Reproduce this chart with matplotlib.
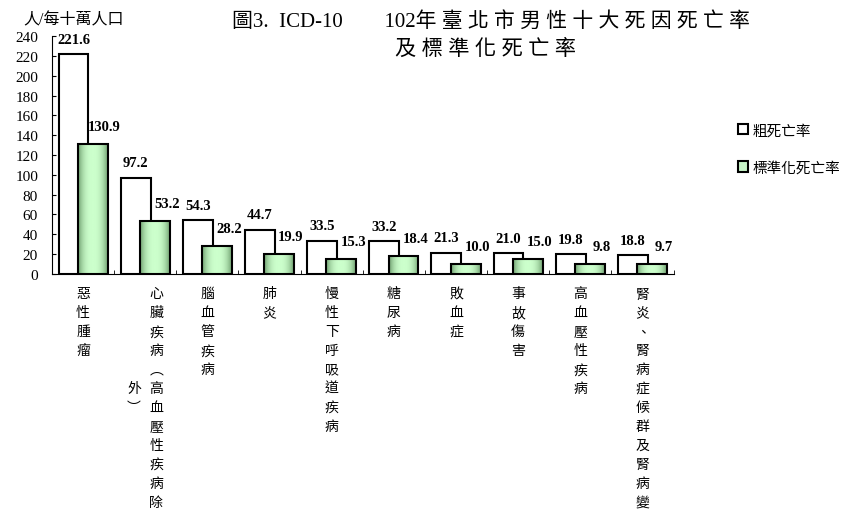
import numpy as np
import matplotlib.pyplot as plt
from matplotlib.colors import LinearSegmentedColormap
from matplotlib.patches import Patch

# 拉丁字用 Times 類字型, 中文字退回 Noto Sans CJK
plt.rcParams['font.family'] = ['Liberation Serif', 'Noto Sans CJK TC']

causes = ['惡性腫瘤', '心臟疾病(高血壓性疾病除外)', '腦血管疾病', '肺炎', '慢性下呼吸道疾病',
          '糖尿病', '敗血症', '事故傷害', '高血壓性疾病', '腎炎、腎病症候群及腎病變']
crude = [221.6, 97.2, 54.3, 44.7, 33.5, 33.2, 21.3, 21.0, 19.8, 18.8]
standard = [130.9, 53.2, 28.2, 19.9, 15.3, 18.4, 10.0, 15.0, 9.8, 9.7]
series_names = ['粗死亡率', '標準化死亡率']
y_ticks = list(range(0, 241, 20))
unit = '人/每十萬人口'
title_a = '圖3.  ICD-10　　102'
title_b = '年臺北市男性十大死因死亡率'
title_c = '及標準化死亡率'

fig = plt.figure(figsize=(8.48, 5.10), dpi=100)
ax = fig.add_axes([0.0613, 0.461, 0.733, 0.466])

x = np.arange(len(causes))
w = 0.48
off = 0.155

white = ax.bar(x - off, crude, w, color='white', edgecolor='black', linewidth=1.5, zorder=1)
green = ax.bar(x + off, standard, w, color='none', edgecolor='black', linewidth=1.5, zorder=3)

# 綠色漸層 (兩邊深, 中間淺)
cmap = LinearSegmentedColormap.from_list('g', ['#6f9f6f', '#ccffcc'])
t = np.linspace(0, 1, 64)
grad = (1 - np.abs(2 * t - 1) ** 2.5).reshape(1, -1)
for b in green:
    x0, bw, h = b.get_x(), b.get_width(), b.get_height()
    im = ax.imshow(grad, cmap=cmap, extent=(x0, x0 + bw, 0, h), aspect='auto',
                   interpolation='bilinear', zorder=2)
    im.set_clip_path(b)

ax.set_xlim(-0.5, len(causes) - 0.5)
ax.set_ylim(0, 240)

# 數值標籤
for b, v in zip(white, crude):
    ax.annotate(f'{v:.1f}', (b.get_x() + b.get_width() / 2, v), xytext=(0, 6),
                textcoords='offset points', ha='center', va='bottom',
                fontsize=10.5, fontweight='bold')
for b, v in zip(green, standard):
    ax.annotate(f'{v:.1f}', (b.get_x() + b.get_width() / 2, v), xytext=(8.5, 8),
                textcoords='offset points', ha='center', va='bottom',
                fontsize=10.5, fontweight='bold')

# 軸
ax.spines['top'].set_visible(False)
ax.spines['right'].set_visible(False)
ax.set_yticks(y_ticks)
ax.tick_params(axis='y', direction='in', length=3, labelsize=11, pad=10)
ax.set_xticks([])
ax.set_xticks(np.arange(-0.5, len(causes), 1), minor=True)
ax.tick_params(axis='x', which='minor', direction='in', length=3)

# 直式類別標籤, 一欄最多 12 字, 多的字放到左邊一欄 (兩欄一起置中)
vert = {'(': '︵', ')': '︶'}
rows = 12
lab = dict(xycoords=('data', 'axes fraction'), textcoords='offset points',
           ha='center', va='top', fontsize=10, linespacing=1.45,
           family=['Noto Sans CJK TC'])
for i, name in enumerate(causes):
    chars = [vert.get(c, c) for c in name]
    col1 = chars[:rows]
    rest = chars[rows:]
    dx = 8 if rest else 0
    ax.annotate('\n'.join(col1), (i, 0), xytext=(dx, -9), **lab)
    if rest:
        pad = (len(col1) - len(rest)) // 2
        col2 = ['　'] * pad + rest
        ax.annotate('\n'.join(col2), (i, 0), xytext=(-dx, -9), **lab)

fig.text(0.027, 0.96, unit, fontsize=11.5, ha='left', va='center')

fig.text(0.579, 0.957, title_a + ' '.join(title_b), fontsize=15, ha='center', va='center')
fig.text(0.572, 0.902, ' '.join(title_c), fontsize=15.3, ha='center', va='center')

handles = [Patch(facecolor='white', edgecolor='black', linewidth=1.5),
           Patch(facecolor='#c8f5c8', edgecolor='black', linewidth=1.5)]
fig.legend(handles, series_names, loc='upper left', bbox_to_anchor=(0.862, 0.77),
           frameon=False, fontsize=10.5, handlelength=0.7, handleheight=0.7,
           handletextpad=0.3, labelspacing=1.6, borderpad=0)

fig.savefig('out.png', dpi=100)
